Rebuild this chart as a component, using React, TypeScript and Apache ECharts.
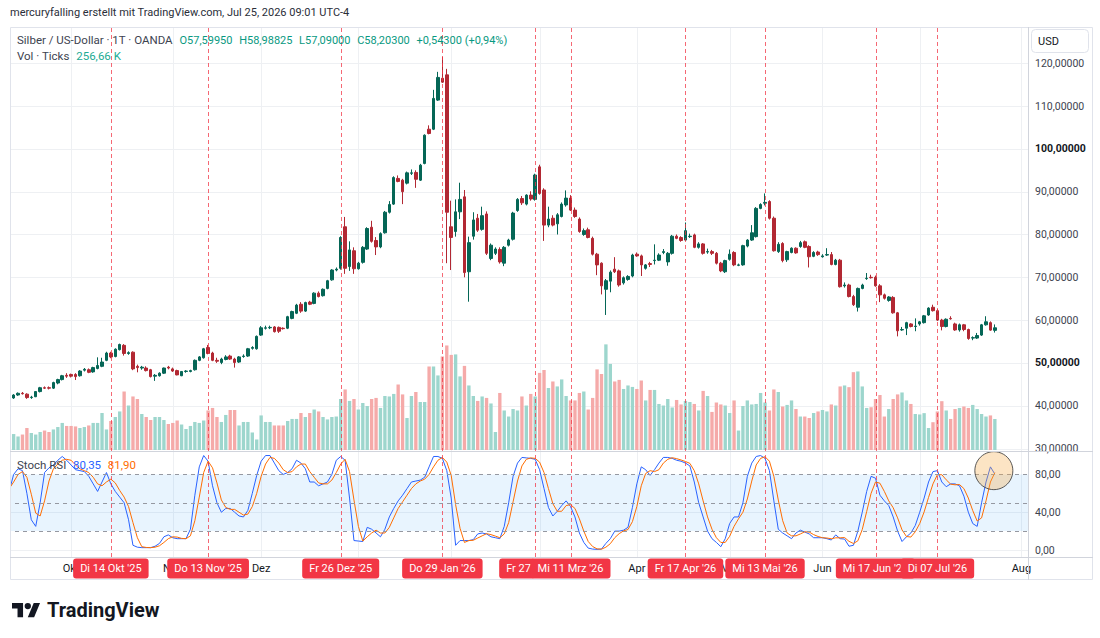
import React, { useEffect, useRef } from 'react';
import * as echarts from 'echarts';

const FONT = 'Roboto, "Liberation Sans", sans-serif';

// ---- trading calendar (weekday sessions, OANDA holidays removed) ----
const SESSION_COUNT = 231;
const MARKET_HOLIDAYS = ['2025-12-25', '2026-01-01', '2026-04-03'];
const MONTHS_DE = ['Jan', 'Feb', 'Mrz', 'Apr', 'Mai', 'Jun', 'Jul', 'Aug', 'Sep', 'Okt', 'Nov', 'Dez'];

function buildSessions(): string[] {
  const out: string[] = [];
  const d = new Date(Date.UTC(2025, 8, 11));
  while (out.length < SESSION_COUNT) {
    const wd = d.getUTCDay();
    const iso = d.toISOString().slice(0, 10);
    if (wd !== 0 && wd !== 6 && !MARKET_HOLIDAYS.includes(iso)) out.push(iso);
    d.setUTCDate(d.getUTCDate() + 1);
  }
  return out;
}
const dates = buildSessions();

// ---- axis ticks / levels ----
const priceTicks = [30, 40, 50, 60, 70, 80, 90, 100, 110, 120];
const boldPriceTicks = [50, 100];
const stochTicks = [0, 40, 80];
const stochLevels = [20, 50, 80];

// ---- vertical markers (the Feb label sits under the Mrz one, only its start shows) ----
const markerDates = ['2025-10-14', '2025-11-13', '2025-12-26', '2026-01-29', '2026-02-27', '2026-03-11', '2026-04-17', '2026-05-13', '2026-06-17', '2026-07-07'];
const markerLabels = ["Di 14 Okt '25", "Do 13 Nov '25", "Fr 26 Dez '25", "Do 29 Jan '26", 'Fr 27', "Mi 11 Mrz '26", "Fr 17 Apr '26", "Mi 13 Mai '26", "Mi 17 Jun '26", "Di 07 Jul '26"];
const clippedMarker = 4;

// ---- XAGUSD daily OHLC ----
const OPEN = [
  41.5, 41.8, 42.5, 42.9, 42.7, 41.9, 42.1, 43.3, 44.2, 44.2,
  44.1, 45.3, 46.1, 47.1, 47.3, 47.3, 47.0, 48.3, 48.4, 47.9,
  48.7, 49.2, 50.6, 52.3, 51.5, 53.1, 54.1, 52.2, 52.5, 49.2,
  48.8, 48.8, 48.4, 46.9, 47.0, 47.6, 49.0, 48.6, 48.2, 47.0,
  48.0, 48.0, 48.4, 50.6, 51.2, 53.6, 52.3, 50.6, 50.1, 50.8,
  51.6, 50.9, 50.2, 51.5, 51.6, 53.4, 53.3, 56.5, 58.1, 58.2,
  58.4, 58.3, 58.1, 58.1, 60.4, 61.6, 63.7, 62.1, 64.2, 63.9,
  66.3, 65.7, 67.4, 69.4, 71.7, 72.1, 81.8, 72.5, 76.2, 72.0,
  73.5, 76.6, 81.7, 78.6, 77.1, 80.4, 85.2, 87.1, 93.1, 92.7,
  92.0, 94.3, 94.5, 92.7, 96.6, 104.6, 104.6, 111.4, 116.5, 117.3,
  81.8, 80.7, 85.3, 88.8, 71.3, 79.6, 83.8, 81.2, 84.8, 74.4,
  75.6, 76.5, 73.3, 77.5, 78.9, 85.6, 88.4, 87.1, 89.2, 88.2,
  95.8, 90.4, 82.2, 83.8, 82.5, 84.2, 86.9, 88.5, 85.7, 83.6,
  80.0, 81.1, 79.1, 75.4, 73.3, 67.2, 69.1, 71.9, 71.5, 68.7,
  69.5, 70.3, 75.4, 75.0, 72.1, 73.2, 73.9, 74.0, 75.8, 73.6,
  75.6, 79.6, 79.3, 78.7, 79.5, 79.9, 77.0, 77.8, 75.9, 76.0,
  75.6, 73.3, 71.3, 74.2, 75.8, 72.8, 72.9, 77.3, 78.7, 79.5,
  86.1, 87.3, 87.7, 83.8, 76.0, 77.9, 74.1, 75.8, 76.8, 77.2,
  78.3, 77.2, 74.9, 75.9, 74.8, 75.2, 75.3, 73.0, 74.0, 68.0,
  68.2, 65.5, 63.0, 67.4, 69.7, 70.0, 70.0, 68.0, 65.9, 64.6,
  65.3, 61.7, 57.7, 58.1, 59.1, 58.5, 59.1, 59.4, 61.2, 63.0,
  62.2, 60.0, 58.5, 60.4, 59.1, 57.7, 58.9, 57.8, 55.8, 55.8,
  56.5, 58.9, 59.4, 57.5995,
];
const HIGH = [
  42.0, 42.7, 43.1, 43.2, 42.9, 42.3, 43.4, 44.4, 44.5, 44.5,
  45.6, 46.3, 47.2, 47.6, 47.5, 47.6, 48.3, 48.8, 48.7, 49.1,
  51.3, 51.2, 52.6, 52.6, 53.4, 54.5, 54.4, 52.7, 52.7, 49.6,
  49.3, 49.2, 48.6, 47.4, 47.8, 48.9, 49.3, 48.9, 48.4, 48.1,
  48.3, 48.4, 50.8, 51.6, 53.5, 54.2, 52.6, 51.2, 51.2, 51.8,
  51.9, 51.2, 51.6, 52.0, 53.5, 53.9, 56.4, 58.6, 58.7, 58.7,
  58.6, 58.5, 58.3, 61.0, 62.2, 63.8, 64.2, 64.3, 64.5, 66.5,
  66.7, 67.4, 69.4, 71.9, 72.3, 79.6, 84.1, 78.4, 77.0, 73.6,
  77.3, 81.7, 83.2, 79.4, 80.5, 85.5, 87.8, 93.6, 93.8, 93.0,
  94.7, 95.2, 95.0, 96.5, 103.4, 105.5, 113.8, 118.0, 121.5, 118.7,
  87.9, 88.2, 92.1, 90.4, 79.5, 85.2, 84.8, 86.5, 85.4, 77.9,
  77.0, 77.0, 77.3, 79.0, 85.3, 88.5, 89.0, 89.4, 90.1, 94.2,
  96.3, 90.8, 86.5, 84.5, 85.0, 87.5, 90.3, 89.2, 86.3, 84.0,
  81.4, 81.6, 79.5, 75.7, 73.5, 69.6, 71.6, 74.7, 71.8, 70.2,
  70.5, 75.5, 75.8, 75.3, 73.1, 73.6, 77.7, 75.6, 76.6, 75.9,
  79.9, 80.0, 79.6, 82.8, 80.2, 80.2, 78.2, 78.0, 76.7, 76.4,
  75.9, 73.6, 74.1, 76.5, 76.1, 73.2, 77.6, 78.9, 82.2, 86.4,
  87.3, 89.6, 88.0, 84.2, 78.2, 78.2, 76.2, 77.0, 77.0, 78.5,
  78.6, 77.5, 76.1, 76.2, 75.4, 76.8, 75.9, 74.3, 74.3, 68.8,
  68.5, 65.9, 67.6, 68.5, 71.0, 70.6, 70.4, 68.4, 66.2, 65.6,
  65.6, 61.9, 58.4, 59.6, 59.3, 60.4, 59.8, 61.2, 63.0, 63.6,
  62.6, 60.3, 60.4, 60.9, 59.4, 59.2, 59.1, 58.0, 56.2, 57.0,
  59.1, 60.9, 59.7, 58.98825,
];
const LOW = [
  41.2, 41.6, 42.3, 42.6, 41.6, 41.6, 42.0, 43.1, 43.9, 43.8,
  43.9, 45.0, 45.9, 46.5, 46.6, 46.0, 46.8, 48.0, 47.6, 47.7,
  48.5, 49.0, 50.4, 51.1, 51.3, 52.9, 51.7, 51.9, 48.3, 47.8,
  48.4, 48.0, 46.6, 45.8, 46.8, 47.4, 48.5, 47.9, 47.1, 46.9,
  47.7, 47.8, 48.2, 50.4, 51.0, 52.0, 50.4, 50.0, 49.7, 50.6,
  50.7, 48.9, 50.0, 51.2, 51.4, 53.1, 53.1, 56.3, 57.8, 57.9,
  57.1, 57.0, 57.8, 57.9, 60.2, 61.4, 61.7, 61.9, 63.5, 63.7,
  65.3, 65.5, 67.2, 69.2, 71.4, 71.8, 70.8, 71.5, 70.8, 71.8,
  73.2, 76.4, 78.1, 75.2, 76.8, 80.2, 84.9, 86.9, 92.2, 87.1,
  91.7, 93.9, 90.9, 92.5, 96.4, 103.4, 104.4, 111.2, 115.4, 73.3,
  71.7, 79.5, 83.6, 70.0, 64.3, 78.8, 80.6, 80.9, 75.2, 74.0,
  75.2, 73.2, 72.6, 77.2, 78.6, 85.3, 86.9, 86.8, 87.9, 87.9,
  89.3, 78.5, 81.7, 81.9, 80.0, 84.0, 86.5, 85.5, 83.9, 80.4,
  79.7, 79.1, 75.1, 70.5, 66.0, 61.2, 66.5, 71.0, 67.8, 68.3,
  69.2, 70.0, 74.8, 70.3, 71.8, 72.4, 73.0, 73.8, 75.4, 72.7,
  75.3, 78.9, 78.3, 78.5, 79.2, 76.8, 76.7, 75.3, 75.5, 75.2,
  73.0, 71.2, 71.0, 73.9, 72.6, 72.6, 72.7, 77.0, 78.5, 79.3,
  85.9, 86.8, 83.5, 76.0, 75.7, 73.5, 73.6, 75.6, 75.5, 76.9,
  76.8, 72.3, 74.7, 75.0, 74.6, 75.0, 72.8, 72.8, 67.6, 67.6,
  65.3, 63.3, 62.0, 67.2, 69.4, 69.7, 67.8, 64.2, 64.8, 64.3,
  61.5, 56.2, 57.5, 56.5, 58.3, 57.4, 58.7, 59.2, 61.0, 62.0,
  59.8, 57.6, 58.3, 60.1, 57.5, 57.3, 57.4, 55.4, 55.3, 55.6,
  56.3, 58.7, 57.5, 57.09,
];
const CLOSE = [
  41.7, 42.5, 42.9, 42.8, 41.9, 42.0, 43.3, 44.2, 44.1, 44.1,
  45.4, 46.1, 47.0, 46.9, 46.9, 46.8, 48.1, 48.5, 47.8, 48.9,
  49.4, 50.2, 52.3, 51.4, 53.2, 54.3, 52.2, 52.4, 48.6, 48.9,
  49.0, 48.2, 46.8, 47.1, 47.6, 48.8, 48.8, 48.1, 47.2, 48.0,
  48.1, 48.2, 50.6, 51.4, 53.3, 52.2, 50.6, 50.4, 50.9, 51.4,
  50.9, 50.1, 51.4, 51.6, 53.3, 53.6, 56.2, 58.2, 58.2, 58.3,
  57.3, 57.4, 58.0, 60.8, 62.0, 63.5, 62.1, 64.1, 63.7, 66.3,
  65.5, 67.2, 69.2, 71.7, 71.9, 79.3, 72.1, 76.4, 72.0, 73.3,
  77.0, 81.4, 78.4, 77.1, 80.2, 85.2, 87.0, 93.3, 92.4, 90.0,
  94.4, 94.4, 92.9, 96.2, 103.2, 103.6, 111.8, 116.7, 115.6, 85.2,
  79.3, 85.3, 88.2, 71.1, 78.1, 83.4, 81.0, 84.4, 75.6, 77.5,
  76.6, 73.6, 77.0, 78.7, 85.0, 88.2, 87.4, 89.2, 88.3, 93.9,
  89.6, 82.2, 83.6, 82.2, 84.6, 87.1, 88.5, 85.7, 84.2, 80.7,
  80.9, 79.3, 75.4, 72.9, 68.0, 69.2, 71.2, 71.3, 68.2, 69.9,
  70.2, 75.2, 75.0, 72.9, 72.9, 73.0, 74.0, 75.2, 76.0, 75.6,
  79.6, 79.1, 78.6, 80.9, 79.6, 77.0, 77.8, 75.6, 76.0, 75.6,
  73.3, 71.5, 73.9, 75.4, 72.9, 72.9, 77.4, 78.7, 80.4, 86.1,
  87.0, 87.5, 83.8, 76.2, 77.7, 73.9, 76.0, 76.8, 75.7, 78.1,
  77.0, 74.8, 75.8, 75.3, 75.0, 75.3, 73.0, 74.0, 67.8, 68.2,
  65.5, 63.6, 67.4, 68.2, 69.8, 69.9, 68.0, 65.9, 65.1, 65.4,
  61.7, 57.5, 57.8, 59.4, 58.5, 58.6, 59.6, 61.0, 62.8, 62.2,
  60.0, 58.5, 60.2, 60.3, 57.7, 58.9, 57.8, 55.7, 55.9, 56.4,
  58.9, 59.6, 57.66, 58.203,
];

// ---- tick volume, thousands ----
const VOLUME_K = [
  132, 132, 112, 128, 182, 141, 128, 149, 161, 149,
  170, 190, 224, 199, 199, 195, 182, 190, 203, 224,
  224, 306, 170, 240, 273, 319, 484, 368, 443, 422,
  298, 273, 248, 273, 273, 248, 215, 224, 244, 211,
  174, 199, 232, 224, 244, 327, 348, 273, 232, 290,
  331, 331, 203, 232, 232, 145, 87, 286, 232, 232,
  203, 203, 203, 240, 257, 257, 306, 273, 306, 335,
  319, 273, 253, 273, 277, 422, 501, 406, 422, 335,
  389, 364, 422, 431, 348, 447, 443, 464, 542, 460,
  265, 447, 480, 397, 397, 691, 691, 617, 774, 865,
  787, 791, 609, 696, 534, 447, 406, 443, 431, 385,
  149, 472, 327, 277, 339, 327, 443, 368, 464, 443,
  638, 662, 513, 567, 526, 584, 447, 410, 410, 472,
  484, 335, 431, 667, 629, 874, 712, 567, 580, 505,
  534, 522, 505, 575, 410, 497, 497, 381, 368, 422,
  352, 414, 377, 406, 397, 381, 327, 489, 447, 315,
  393, 377, 368, 306, 410, 161, 364, 410, 377, 381,
  472, 393, 327, 501, 480, 360, 373, 410, 339, 277,
  277, 265, 306, 319, 331, 319, 377, 368, 526, 534,
  520, 644, 650, 526, 348, 354, 422, 455, 277, 339,
  422, 460, 476, 410, 381, 298, 294, 305, 182, 230,
  319, 404, 327, 257, 339, 348, 360, 348, 373, 339,
  298, 277, 286, 256.66,
];

// ---- Stoch RSI %K / %D ----
const STOCH_K = [
  62, 80, 86, 84, 60, 32, 25, 50, 82, 87,
  90, 95, 99, 95, 90, 85, 84, 83, 78, 70,
  62, 72, 82, 70, 62, 56, 50, 32, 5, 3,
  2.5, 2.5, 2.5, 4, 7, 14, 16, 13, 12, 12,
  12, 22, 58, 88, 100, 94, 68, 50, 40, 44,
  44, 40, 36, 35, 42, 60, 79, 94, 100, 100,
  92, 84, 80, 82, 86, 95, 92, 86, 72, 72,
  68, 70, 72, 80, 95, 99, 95, 55, 10, 9.5,
  9, 24, 22, 18, 14, 22, 35, 44, 52, 58,
  65, 72, 73, 74, 77, 88, 99, 99, 97, 84,
  55, 5, 10, 10, 10, 11, 17, 18, 17, 14,
  13, 12, 25, 50, 78, 92, 98, 97.5, 97, 96,
  85, 65, 45, 36, 41, 47, 52, 46, 35, 18,
  8, 2, 1, 0.7, 1, 7, 12, 20, 20, 21,
  24, 45, 70, 88, 85, 79, 85, 92, 98, 98,
  97, 95, 94, 92, 89, 72, 50, 35, 20, 12,
  8, 3.5, 12, 28, 35, 35, 50, 78, 92, 99,
  100, 97, 84, 52, 22, 18, 15, 12, 18, 21,
  19, 17, 13, 13, 13, 12, 10.6, 16, 12, 11.6,
  4, 5, 20, 40, 62, 78, 76, 58, 52, 47,
  35, 20, 9, 14, 18, 26, 40, 55, 72, 83,
  84, 72, 67, 70, 70, 68, 57, 40, 28, 25,
  50, 72, 88, 80.35,
];
const STOCH_D = [
  65, 72, 80, 83, 77, 59, 39, 36, 52, 73,
  86, 91, 95, 96, 95, 90, 86, 84, 82, 77,
  70, 68, 72, 75, 71, 63, 56, 46, 29, 13,
  3.5, 2.7, 2.5, 3, 4.5, 8, 12, 14, 13.7, 12.3,
  12, 15, 31, 56, 82, 94, 87, 71, 53, 45,
  43, 43, 40, 37, 38, 46, 60, 78, 91, 98,
  97, 92, 85, 82, 83, 88, 91, 91, 83, 77,
  71, 70, 70, 74, 82, 91, 96, 83, 53, 25,
  9.5, 14, 18, 21, 18, 18, 24, 34, 44, 51,
  58, 65, 70, 73, 75, 80, 88, 95, 98, 93,
  79, 48, 23, 8, 10, 10.3, 12.7, 15, 17.3, 16.3,
  14.7, 13, 17, 29, 51, 73, 89, 96, 97.5, 97,
  93, 82, 65, 49, 41, 41, 47, 48, 44, 33,
  20, 9, 3.7, 1.2, 0.9, 3, 6.7, 13, 17.3, 20.3,
  21.7, 30, 46, 68, 81, 84, 83, 85, 92, 96,
  97.7, 96.7, 95.3, 93.7, 91.7, 84, 70, 52, 35, 22,
  13, 8, 8, 14.5, 25, 33, 40, 54, 73, 90,
  97, 98.7, 94, 78, 53, 31, 18, 15, 15, 17,
  19.3, 19, 16.3, 14.3, 13, 12.7, 11.9, 12.9, 12.9, 13.2,
  9.2, 6.9, 9.7, 21.7, 40.7, 60, 72, 70.7, 62, 52,
  44.7, 34, 21.3, 14.3, 13.7, 19.3, 28, 40.3, 55.7, 70,
  79.7, 79.7, 74.3, 69.7, 69, 69.3, 65, 55, 41.7, 30.7,
  34, 52, 72, 81.9,
];

// ---- colours ----
const UP = '#056656';
const DOWN = '#b22833';
const VOL_UP = '#9dd6cd';
const VOL_DOWN = '#f5aaa9';
const K_COLOR = '#2962ff';
const D_COLOR = '#ff6d00';
const VALUE_GREEN = '#089981';
const TEXT = '#131722';
const GRID = '#eef0f3';
const BORDER = '#e0e3eb';
const MARKER = '#f23645';

const LOGO_PATH = 'M14 22H7V11H0V4h14v18zM28 22h-8l7.5-18h8L28 22zM24 8a4 4 0 1 1-8 0a4 4 0 1 1 8 0z';
echarts.graphic.registerShape('tvMark', echarts.graphic.extendPath(LOGO_PATH, {}) as any);

const comma = (v: number, d: number) => v.toFixed(d).replace('.', ',');
const markerIdx = markerDates.map((d) => dates.indexOf(d));
const BAR_PX = 1021 / SESSION_COUNT;
// month labels that would sit fully under a date badge are left out
const isMonthStart = (i: number) => i > 0 && dates[i].slice(5, 7) !== dates[i - 1].slice(5, 7);
const showMonthLabel = (i: number) =>
  isMonthStart(i) && markerIdx.every((m) => Math.abs(m - i) * BAR_PX >= 30);
const monthName = (iso: string) => {
  const m = Number(iso.slice(5, 7));
  return m === 1 ? iso.slice(0, 4) : MONTHS_DE[m - 1];
};

const last = OPEN.length - 1;

function baseOption(): any {
  return {
    animation: false,
    backgroundColor: '#ffffff',
    textStyle: { fontFamily: FONT },
    grid: [
      { left: 7, top: 27, width: 1021, height: 423 },
      { left: 7, top: 451, width: 1021, height: 106 },
    ],
    xAxis: [
      {
        type: 'category', gridIndex: 0, data: dates, boundaryGap: true,
        axisLine: { show: false }, axisTick: { show: false }, axisLabel: { show: false }, splitLine: { show: false },
      },
      {
        type: 'category', gridIndex: 1, data: dates, boundaryGap: true,
        axisLine: { show: false }, axisTick: { show: false }, splitLine: { show: false },
        axisLabel: {
          interval: (index: number) => showMonthLabel(index),
          formatter: (v: string) => monthName(v),
          color: TEXT, fontSize: 11, fontFamily: FONT, margin: 6,
        },
      },
    ],
    yAxis: [
      {
        type: 'value', gridIndex: 0, position: 'right', min: 29.65, max: 128.48,
        axisLine: { show: false }, axisTick: { show: false }, splitLine: { show: false },
        axisLabel: {
          customValues: priceTicks,
          margin: 7,
          formatter: (v: number) => (boldPriceTicks.includes(v) ? `{b|${comma(v, 5)}}` : `{n|${comma(v, 5)}}`),
          rich: {
            n: { color: '#3d4350', fontSize: 10.5, fontFamily: FONT },
            b: { color: TEXT, fontSize: 10.5, fontFamily: FONT, fontWeight: 'bold' },
          },
        },
      },
      {
        type: 'value', gridIndex: 0, min: 0, max: 3500, show: false,
        splitLine: { show: false },
      },
      {
        type: 'value', gridIndex: 1, position: 'right', min: -7.4, max: 104.8,
        axisLine: { show: false }, axisTick: { show: false }, splitLine: { show: false },
        axisLabel: {
          customValues: stochTicks,
          margin: 7,
          formatter: (v: number) => comma(v, 2),
          color: '#3d4350', fontSize: 10.5, fontFamily: FONT,
        },
      },
    ],
    series: [
      {
        type: 'bar', name: 'Vol', xAxisIndex: 0, yAxisIndex: 1, barWidth: '76%', z: 2,
        data: VOLUME_K.map((v, i) => ({ value: v, itemStyle: { color: CLOSE[i] >= OPEN[i] ? VOL_UP : VOL_DOWN } })),
      },
      {
        type: 'candlestick', name: 'XAGUSD', xAxisIndex: 0, yAxisIndex: 0, barWidth: 3, z: 3,
        data: OPEN.map((o, i) => [o, CLOSE[i], LOW[i], HIGH[i]]),
        itemStyle: { color: UP, color0: DOWN, borderColor: UP, borderColor0: DOWN, borderWidth: 1 },
      },
      {
        type: 'line', name: 'K', xAxisIndex: 1, yAxisIndex: 2, data: STOCH_K, symbol: 'none', z: 4,
        lineStyle: { color: K_COLOR, width: 1 },
        markArea: {
          silent: true,
          itemStyle: { color: 'rgba(33,150,243,0.1)' },
          data: [[{ yAxis: 20 }, { yAxis: 80 }]],
        },
      },
      {
        type: 'line', name: 'D', xAxisIndex: 1, yAxisIndex: 2, data: STOCH_D, symbol: 'none', z: 4,
        lineStyle: { color: D_COLOR, width: 1 },
        markLine: {
          silent: true, symbol: ['none', 'none'], label: { show: false },
          lineStyle: { color: '#9598a1', type: [4, 4], width: 1 },
          data: stochLevels.map((v) => ({ yAxis: v })),
        },
      },
    ],
  };
}

function buildGraphics(chart: any): any[] {
  const gx = (iso: string) => chart.convertToPixel({ xAxisIndex: 0 }, iso) as number;
  const gy = (v: number) => chart.convertToPixel({ yAxisIndex: 0 }, v) as number;
  const sy = (v: number) => chart.convertToPixel({ yAxisIndex: 2 }, v) as number;
  const els: any[] = [];
  const line = (x1: number, y1: number, x2: number, y2: number, stroke: string, z = 0, dash?: number[]) =>
    els.push({ type: 'line', z, silent: true, shape: { x1, y1, x2, y2 }, style: { stroke, lineWidth: 1, lineDash: dash } });

  // grid lines
  priceTicks.forEach((v) => { const y = Math.round(gy(v)) + 0.5; line(10, y, 1028, y, GRID, 0); });
  [0, 40].forEach((v) => { const y = Math.round(sy(v)) + 0.5; line(10, y, 1028, y, GRID, 0); });
  dates.forEach((d, i) => {
    if (isMonthStart(i)) { const x = Math.round(gx(d)) + 0.5; line(x, 27, x, 557, GRID, 0); }
  });

  // frame and pane separators
  els.push({ type: 'rect', z: 50, silent: true, shape: { x: 0, y: 20, width: 10, height: 570 }, style: { fill: '#ffffff' } });
  els.push({ type: 'rect', z: 51, silent: true, shape: { x: 10.5, y: 27.5, width: 1082, height: 552 }, style: { fill: 'none', stroke: BORDER, lineWidth: 1 } });
  line(1028.5, 27, 1028.5, 580, '#d1d4dc', 51);
  line(10, 451.5, 1093, 451.5, '#d1d4dc', 51);
  line(10, 557.5, 1093, 557.5, '#d1d4dc', 51);

  // vertical markers and their date badges
  markerDates.forEach((d) => { const x = Math.round(gx(d)) + 0.5; line(x, 28, x, 557, 'rgba(242,54,69,0.75)', 20, [4, 3]); });
  markerDates.forEach((d, i) => {
    const clipped = i === clippedMarker;
    els.push({
      type: 'text', z: 60, silent: true, x: clipped ? gx(d) - 36 : gx(d), y: 568.5,
      style: {
        text: markerLabels[i], fill: '#ffffff', fontSize: 11, fontFamily: FONT,
        align: clipped ? 'left' : 'center', verticalAlign: 'middle', backgroundColor: MARKER,
        padding: clipped ? [4, 4, 4, 7] : [4, 7, 4, 7], borderRadius: 3, lineHeight: 12,
      },
    });
  });

  // highlight on the latest stoch cross
  els.push({
    type: 'circle', z: 40, silent: true,
    shape: { cx: gx(dates[last]) - 1, cy: sy(84), r: 19 },
    style: { fill: 'rgba(245,170,70,0.32)', stroke: 'rgba(60,60,60,0.85)', lineWidth: 1 },
  });

  // header
  els.push({
    type: 'text', z: 60, x: 10, y: 12,
    style: { text: 'mercuryfalling erstellt mit TradingView.com, Jul 25, 2026 09:01 UTC-4', fill: '#2a2e39', fontSize: 11, fontFamily: FONT, verticalAlign: 'middle' },
  });

  const chg = CLOSE[last] - CLOSE[last - 1];
  const pct = (chg / CLOSE[last - 1]) * 100;
  const sign = chg >= 0 ? '+' : '';
  els.push({
    type: 'text', z: 60, x: 17, y: 40,
    style: {
      text:
        `{t|Silber / US-Dollar · 1T · OANDA}  {v|O${comma(OPEN[last], 5)}}  {v|H${comma(HIGH[last], 5)}}  ` +
        `{v|L${comma(LOW[last], 5)}}  {v|C${comma(CLOSE[last], 5)}}  {v|${sign}${comma(chg, 5)} (${sign}${comma(pct, 2)}%)}`,
      verticalAlign: 'middle',
      rich: {
        t: { fill: '#3d4350', fontSize: 11.5, fontFamily: FONT },
        v: { fill: VALUE_GREEN, fontSize: 11, fontFamily: FONT },
      },
    },
  });
  els.push({
    type: 'text', z: 60, x: 17, y: 56,
    style: {
      text: `{t|Vol · Ticks}  {v|${comma(VOLUME_K[last], 2)} K}`,
      verticalAlign: 'middle',
      rich: {
        t: { fill: '#3d4350', fontSize: 11.5, fontFamily: FONT },
        v: { fill: '#22ab94', fontSize: 11.5, fontFamily: FONT },
      },
    },
  });
  els.push({
    type: 'text', z: 60, x: 17, y: 465,
    style: {
      text: `{t|Stoch RSI}  {k|${comma(STOCH_K[last], 2)}}  {d|${comma(STOCH_D[last], 2)}}`,
      verticalAlign: 'middle',
      rich: {
        t: { fill: '#3d4350', fontSize: 11.5, fontFamily: FONT },
        k: { fill: K_COLOR, fontSize: 11.5, fontFamily: FONT },
        d: { fill: D_COLOR, fontSize: 11.5, fontFamily: FONT },
      },
    },
  });

  // currency badge
  els.push({ type: 'rect', z: 60, shape: { x: 1031.5, y: 29.5, width: 57, height: 23, r: 4 }, style: { fill: '#ffffff', stroke: BORDER, lineWidth: 1 } });
  els.push({ type: 'text', z: 61, x: 1038, y: 41, style: { text: 'USD', fill: TEXT, fontSize: 11, fontFamily: FONT, verticalAlign: 'middle' } });

  // watermark logo
  els.push({ type: 'tvMark', z: 60, x: 12, y: 599.8, scaleX: 0.79, scaleY: 0.79, style: { fill: TEXT } });
  els.push({ type: 'text', z: 60, x: 47, y: 610, style: { text: 'TradingView', fill: TEXT, fontSize: 20, fontWeight: 'bold', fontFamily: FONT, verticalAlign: 'middle' } });

  return els;
}

export default function App() {
  const ref = useRef<HTMLDivElement>(null);
  useEffect(() => {
    if (!ref.current) return;
    const chart = echarts.init(ref.current, null, { renderer: 'svg' });
    chart.setOption(baseOption());
    chart.setOption({ graphic: buildGraphics(chart) });
    return () => chart.dispose();
  }, []);
  return (
    <div
      ref={ref}
      style={{ position: 'fixed', left: 0, top: 0, width: 1100, height: 638, background: '#ffffff' }}
    />
  );
}
